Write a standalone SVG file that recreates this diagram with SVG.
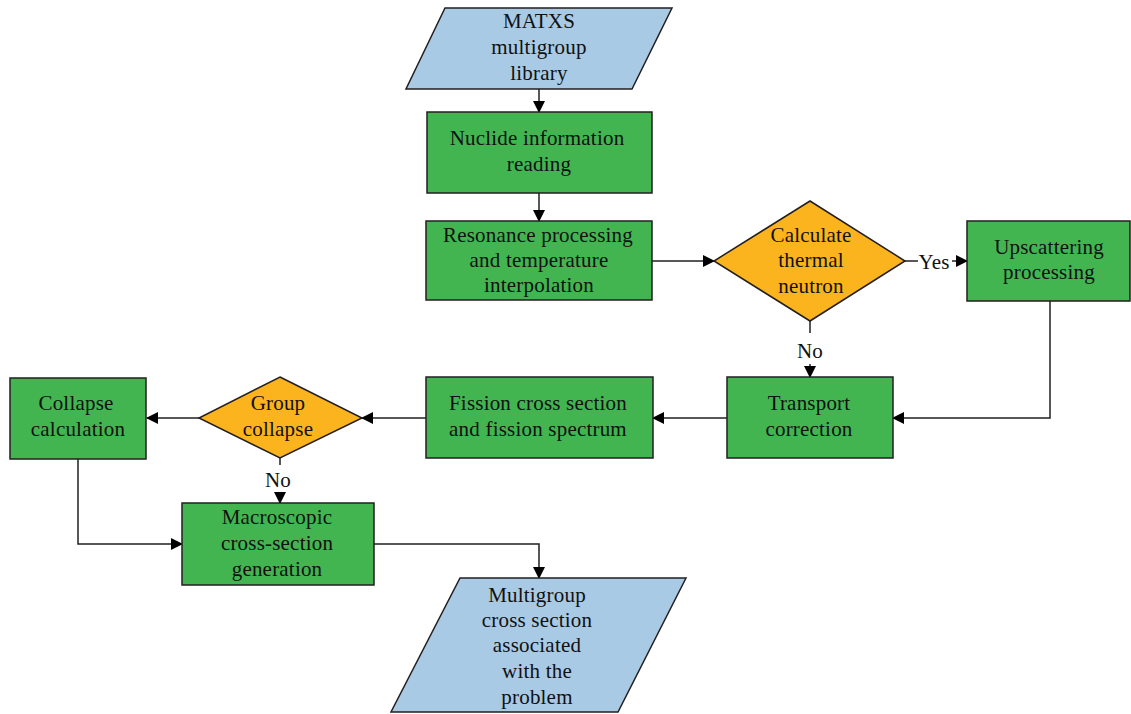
<svg xmlns="http://www.w3.org/2000/svg" width="1131" height="714" viewBox="0 0 1131 714">
<defs>
<style>
.box{fill:#42B551;stroke:#231F20;stroke-width:1.5}
.dec{fill:#FBB41E;stroke:#231F20;stroke-width:1.5}
.io{fill:#A9CAE5;stroke:#231F20;stroke-width:1.5}
.t{font-family:"Liberation Serif",serif;font-size:21px;fill:#111;text-anchor:middle;letter-spacing:0.2px}
.c{fill:none;stroke:#231F20;stroke-width:1.5}
</style>
<marker id="ah" markerWidth="12" markerHeight="12" refX="11" refY="6" orient="auto" markerUnits="userSpaceOnUse">
<path d="M0,0 L12,6 L0,12 Z" fill="#000"/>
</marker>
</defs>
<rect width="1131" height="714" fill="#fff"/>
<g id="connectors">
<path class="c" d="M539,89 V112" marker-end="url(#ah)"/>
<path class="c" d="M539,193 V221" marker-end="url(#ah)"/>
<path class="c" d="M652,261 H714" marker-end="url(#ah)"/>
<path class="c" d="M905,261 H918"/>
<path class="c" d="M952,261 H967" marker-end="url(#ah)"/>
<path class="c" d="M810,321 V333"/>
<path class="c" d="M810,364 V377" marker-end="url(#ah)"/>
<path class="c" d="M1050,301 V418 H893" marker-end="url(#ah)"/>
<path class="c" d="M727,418 H653" marker-end="url(#ah)"/>
<path class="c" d="M426,418 H362" marker-end="url(#ah)"/>
<path class="c" d="M199,418 H147" marker-end="url(#ah)"/>
<path class="c" d="M280,458 V465"/>
<path class="c" d="M280,492 V503" marker-end="url(#ah)"/>
<path class="c" d="M78,459 V544 H182" marker-end="url(#ah)"/>
<path class="c" d="M374,544 H539 V578" marker-end="url(#ah)"/>
<text class="t" x="934" y="269">Yes</text>
<text class="t" x="810" y="358">No</text>
<text class="t" x="278" y="487">No</text>
</g>
<g id="matxs">
<polygon class="io" points="445,8 672,8 632,89 406,89"/>
<text class="t" x="539" y="28">MATXS</text>
<text class="t" x="539" y="54">multigroup</text>
<text class="t" x="539" y="80">library</text>
</g>
<g id="nuclide">
<rect class="box" x="427" y="112" width="225" height="81"/>
<text class="t" x="537" y="145">Nuclide information</text>
<text class="t" x="539" y="171">reading</text>
</g>
<g id="resonance">
<rect class="box" x="426" y="221" width="226" height="79"/>
<text class="t" x="538" y="242">Resonance processing</text>
<text class="t" x="539" y="267">and temperature</text>
<text class="t" x="539" y="292">interpolation</text>
</g>
<g id="thermal">
<polygon class="dec" points="810,201 905,261 810,321 714,261"/>
<text class="t" x="811" y="242">Calculate</text>
<text class="t" x="811" y="267">thermal</text>
<text class="t" x="811" y="293">neutron</text>
</g>
<g id="upscattering">
<rect class="box" x="967" y="221" width="163" height="80"/>
<text class="t" x="1049" y="254">Upscattering</text>
<text class="t" x="1049" y="279">processing</text>
</g>
<g id="transport">
<rect class="box" x="727" y="377" width="166" height="81"/>
<text class="t" x="809" y="410">Transport</text>
<text class="t" x="809" y="436">correction</text>
</g>
<g id="fission">
<rect class="box" x="426" y="377" width="227" height="81"/>
<text class="t" x="538" y="410">Fission cross section</text>
<text class="t" x="538" y="436">and fission spectrum</text>
</g>
<g id="groupcollapse">
<polygon class="dec" points="280,377 362,418 280,458 199,418"/>
<text class="t" x="278" y="410">Group</text>
<text class="t" x="278" y="436">collapse</text>
</g>
<g id="collapsecalc">
<rect class="box" x="10" y="378" width="136" height="81"/>
<text class="t" x="76" y="410">Collapse</text>
<text class="t" x="78" y="436">calculation</text>
</g>
<g id="macroscopic">
<rect class="box" x="182" y="503" width="192" height="82"/>
<text class="t" x="277" y="524">Macroscopic</text>
<text class="t" x="277" y="550">cross-section</text>
<text class="t" x="277" y="576">generation</text>
</g>
<g id="multigroup">
<polygon class="io" points="460,578 686,578 618,712 391,712"/>
<text class="t" x="537" y="602">Multigroup</text>
<text class="t" x="537" y="627">cross section</text>
<text class="t" x="537" y="652">associated</text>
<text class="t" x="537" y="678">with the</text>
<text class="t" x="537" y="704">problem</text>
</g>
</svg>
